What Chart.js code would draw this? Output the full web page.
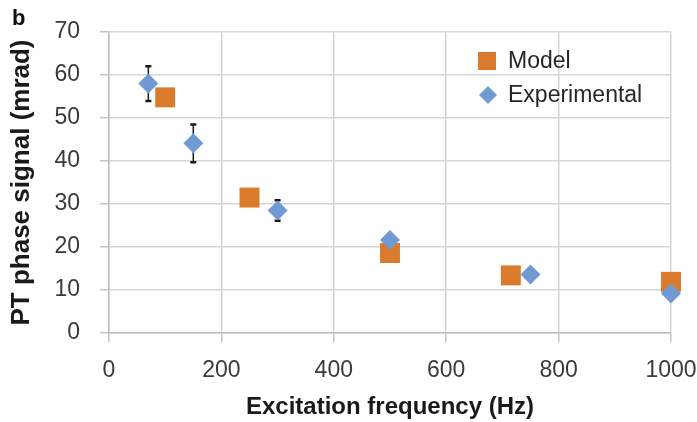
<!DOCTYPE html>
<html>
<head>
<meta charset="utf-8">
<title>PT phase signal vs excitation frequency</title>
<script src="https://cdn.jsdelivr.net/npm/chart.js@4.4.0/dist/chart.umd.min.js"></script>
<style>
  html, body { margin: 0; padding: 0; background: #fff; }
  #wrap { width: 697px; height: 422px; }
</style>
</head>
<body>
<div id="wrap"><canvas id="ptChart" width="697" height="422"></canvas></div>
<script>
// Data
const modelFreq = [100, 250, 500, 715, 1000];
const modelSignal = [54.8, 31.5, 18.6, 13.4, 11.9];

const expFreq = [70, 150, 300, 500, 750, 1000];
const expSignal = [58.0, 44.1, 28.5, 21.6, 13.6, 9.2];
const expError = [4.05, 4.4, 2.4, 0, 0, 0];

const xTicks = [0, 200, 400, 600, 800, 1000];
const yTicks = [0, 10, 20, 30, 40, 50, 60, 70];

const FONT = "'Liberation Sans', Arial, sans-serif";
const ORANGE = "#DA7A2D";
const BLUE = "#7199D3";

// error bars drawn under the diamonds
const errorBars = {
  id: "errorBars",
  beforeDatasetsDraw(chart) {
    const { ctx, scales: { x, y } } = chart;
    ctx.save();
    ctx.strokeStyle = "#1a1a1a";
    expFreq.forEach((f, i) => {
      const err = expError[i];
      if (!err) return;
      const px = x.getPixelForValue(f);
      const top = y.getPixelForValue(expSignal[i] + err);
      const bot = y.getPixelForValue(expSignal[i] - err);
      ctx.lineWidth = 1.5;
      ctx.beginPath();
      ctx.moveTo(px, top);
      ctx.lineTo(px, bot);
      ctx.stroke();
      ctx.lineWidth = 2.5;
      ctx.beginPath();
      ctx.moveTo(px - 3, top);
      ctx.lineTo(px + 3, top);
      ctx.moveTo(px - 3, bot);
      ctx.lineTo(px + 3, bot);
      ctx.stroke();
    });
    ctx.restore();
  },
};

// legend inside the plot + panel letter
const insideLegend = {
  id: "insideLegend",
  afterDraw(chart) {
    const ctx = chart.ctx;
    const items = [
      { ds: chart.data.datasets[1], x: 487, y: 61, radius: 12.7 },
      { ds: chart.data.datasets[0], x: 488, y: 95, radius: 9 },
    ];
    ctx.save();
    items.forEach((it) => {
      ctx.fillStyle = it.ds.backgroundColor;
      Chart.helpers.drawPoint(
        ctx,
        { pointStyle: it.ds.pointStyle, radius: it.radius, rotation: 0, borderWidth: 0 },
        it.x,
        it.y
      );
      ctx.fillStyle = "#262626";
      ctx.font = `23px ${FONT}`;
      ctx.textAlign = "left";
      ctx.textBaseline = "middle";
      ctx.fillText(it.ds.label, 508, it.y + 1);
    });

    ctx.fillStyle = "#111";
    ctx.font = `bold 22px ${FONT}`;
    ctx.textBaseline = "alphabetic";
    ctx.fillText("b", 12, 25);
    ctx.restore();
  },
};

new Chart(document.getElementById("ptChart").getContext("2d"), {
  type: "scatter",
  data: {
    datasets: [
      {
        label: "Experimental",
        data: expFreq.map((f, i) => ({ x: f, y: expSignal[i] })),
        pointStyle: "rectRot",
        pointRadius: 10,
        pointHoverRadius: 10,
        backgroundColor: BLUE,
        borderColor: BLUE,
        borderWidth: 0,
        order: 0,
        clip: false,
      },
      {
        label: "Model",
        data: modelFreq.map((f, i) => ({ x: f, y: modelSignal[i] })),
        pointStyle: "rect",
        pointRadius: 14.1,
        pointHoverRadius: 14.1,
        backgroundColor: ORANGE,
        borderColor: ORANGE,
        borderWidth: 0,
        order: 1,
        clip: false,
      },
    ],
  },
  options: {
    responsive: false,
    animation: false,
    layout: { padding: { top: 32, right: 26, left: 0, bottom: 0 } },
    plugins: {
      legend: { display: false },
      tooltip: { enabled: false },
    },
    scales: {
      x: {
        type: "linear",
        min: 0,
        max: 1000,
        afterBuildTicks: (s) => {
          s.ticks = xTicks.map((v) => ({ value: v }));
        },
        afterFit: (s) => {
          s.height = 89;
          s.paddingLeft = 0;
          s.paddingRight = 0;
        },
        grid: { color: "#d6d6d6", lineWidth: 1.5, tickLength: 9, tickColor: "#c4c4c4" },
        border: { color: "#bdbdbd", width: 1.5 },
        ticks: {
          font: { family: FONT, size: 23 },
          color: "#3a3a3a",
          padding: 15,
          maxRotation: 0,
          callback: (v) => String(v),
        },
        title: {
          display: true,
          text: "Excitation frequency (Hz)",
          font: { family: FONT, size: 24, weight: "bold" },
          color: "#1a1a1a",
          padding: { top: 0, bottom: 0 },
        },
      },
      y: {
        type: "linear",
        min: 0,
        max: 70,
        afterBuildTicks: (s) => {
          s.ticks = yTicks.map((v) => ({ value: v }));
        },
        afterFit: (s) => {
          s.width = 109;
          s.paddingTop = 0;
          s.paddingBottom = 0;
        },
        grid: { color: "#d6d6d6", lineWidth: 1.5, tickLength: 9, tickColor: "#c4c4c4" },
        border: { color: "#bdbdbd", width: 1.5 },
        ticks: {
          font: { family: FONT, size: 23 },
          color: "#3a3a3a",
          padding: 20,
          callback: (v) => String(v),
        },
        title: {
          display: true,
          text: "PT phase signal (mrad)",
          font: { family: FONT, size: 26, weight: "bold" },
          color: "#1a1a1a",
          padding: { top: 6, bottom: 0 },
        },
      },
    },
  },
  plugins: [errorBars, insideLegend],
});
</script>
</body>
</html>
